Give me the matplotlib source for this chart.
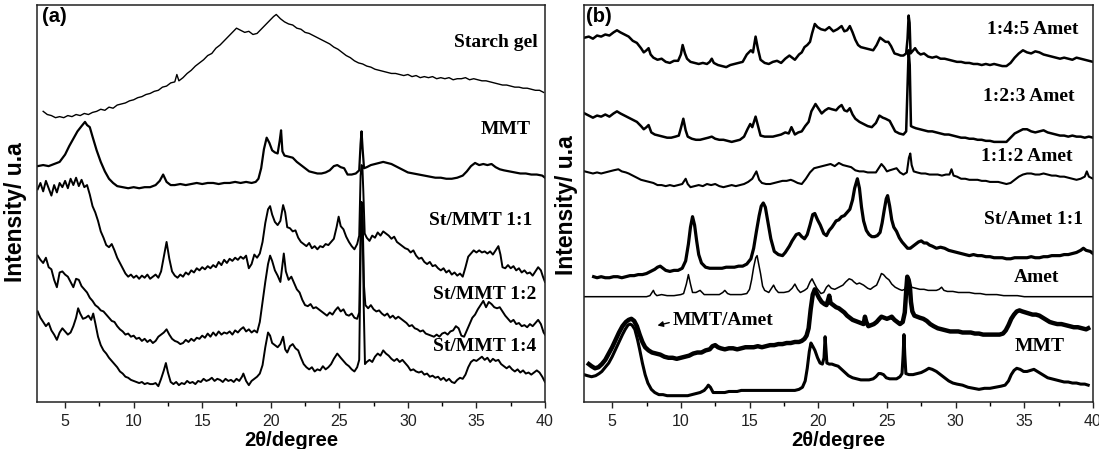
"""XRD patterns: (a) starch gel / MMT / St-MMT films, (b) Amet series."""

import matplotlib

matplotlib.use("Agg")
import matplotlib.pyplot as plt
from matplotlib.ticker import MultipleLocator

# ---------------------------------------------------------------- panel (a)
starch_x = [3.4, 3.7, 4.0, 4.3, 4.6, 4.9, 5.2, 5.5, 5.8, 6.1, 6.4, 6.7, 7.0, 7.3, 7.6, 7.9, 8.2, 8.5, 8.8, 9.1,
            9.4, 9.7, 10.0, 10.3, 10.6, 10.9, 11.2, 11.5, 11.8, 12.1, 12.4, 12.7, 13.0, 13.15, 13.3, 13.6, 13.9,
            14.2, 14.5, 14.8, 15.1, 15.4, 15.7, 16.0, 16.3, 16.6, 16.9, 17.2, 17.5, 17.8, 18.1, 18.4, 18.7, 19.0,
            19.3, 19.6, 19.9, 20.2, 20.4, 20.7, 21.0, 21.3, 21.6, 21.9, 22.2, 22.5, 22.8, 23.1, 23.4, 23.7, 24.0,
            24.3, 24.6, 24.9, 25.2, 25.5, 25.8, 26.1, 26.4, 26.7, 27.0, 27.3, 27.6, 27.9, 28.2, 28.5, 28.8, 29.1,
            29.4, 29.7, 30.0, 30.3, 30.6, 30.9, 31.2, 31.5, 31.8, 32.1, 32.4, 32.7, 33.0, 33.3, 33.6, 33.9, 34.2,
            34.5, 34.8, 35.1, 35.4, 35.7, 36.0, 36.3, 36.6, 36.9, 37.2, 37.5, 37.8, 38.1, 38.4, 38.7, 39.0, 39.3,
            39.6, 39.9]
starch_y = [276, 273, 272, 270, 271, 270, 272, 271, 273, 272, 274, 273, 275, 276, 278, 277, 280, 279, 282, 283,
            284, 286, 287, 289, 290, 292, 293, 295, 296, 299, 300, 303, 304, 311, 305, 308, 312,
            315, 319, 322, 325, 329, 331, 336, 339, 343, 347, 351, 355, 353, 351, 352, 349, 350,
            354, 358, 362, 366, 368, 364, 361, 359, 358, 355, 354, 351, 350, 348, 346, 344, 342,
            340, 337, 335, 332, 329, 327, 324, 322, 321, 319, 318, 316, 315, 314, 313, 312, 312,
            311, 310, 311, 309, 310, 308, 309, 308, 309, 307, 308, 307, 308, 306, 307, 307, 308,
            306, 307, 306, 305, 305, 304, 303, 302, 301, 301, 300, 299, 299, 298, 298, 297, 296,
            296, 294]

mmt_a_x = [3.0, 3.4, 3.8, 4.2, 4.6, 5.0, 5.3, 5.6, 5.9, 6.2, 6.45, 6.6, 6.8, 7.0, 7.3, 7.6, 7.9, 8.2, 8.5, 8.8,
           9.2, 9.6, 10.0, 10.4, 10.8, 11.2, 11.6, 11.9, 12.15, 12.4, 12.7, 13.0, 13.4, 13.8, 14.2, 14.6, 15.0,
           15.4, 15.8, 16.2, 16.6, 17.0, 17.4, 17.8, 18.2, 18.6, 18.9, 19.1, 19.3, 19.5, 19.7, 19.9, 20.1, 20.3,
           20.5, 20.65, 20.75, 20.85, 21.0, 21.3, 21.6, 21.9, 22.2, 22.5, 22.8, 23.1, 23.4, 23.7, 24.0, 24.3,
           24.6, 24.85, 25.1, 25.35, 25.6, 25.9, 26.2, 26.45, 26.55, 26.62, 26.7, 26.8, 27.0, 27.3, 27.6, 27.9,
           28.2, 28.5, 28.8, 29.1, 29.4, 29.7, 30.0, 30.4, 30.8, 31.2, 31.6, 32.0, 32.4, 32.8, 33.2, 33.6, 34.0,
           34.3, 34.6, 34.9, 35.2, 35.5, 35.8, 36.1, 36.4, 36.7, 37.0, 37.4, 37.8, 38.2, 38.6, 39.0, 39.4, 39.8,
           40.0]
mmt_a_y = [224, 225, 224, 226, 228, 235, 243, 250, 257, 262, 266, 263, 261, 252, 239, 228, 219, 212, 208, 205,
           204, 203, 204, 203, 204, 204, 206, 210, 216, 209, 206, 206, 207, 206, 207, 208, 207,
           208, 208, 207, 208, 208, 209, 208, 209, 208, 209, 212, 222, 240, 251, 246, 239, 237,
           236, 248, 258, 238, 234, 233, 232, 228, 225, 222, 219, 218, 217, 217, 218, 220,
           224, 225, 223, 222, 216, 216, 217, 220, 245, 257, 240, 222, 223, 225, 226, 227,
           228, 227, 226, 224, 222, 220, 218, 217, 216, 215, 214, 213, 213, 212, 212, 213, 215,
           219, 224, 227, 225, 226, 225, 226, 223, 221, 220, 219, 218, 217, 217, 216, 216, 215,
           213]

st11_x = [3.0, 3.2, 3.4, 3.6, 3.8, 4.0, 4.2, 4.4, 4.6, 4.8, 5.0, 5.2, 5.4, 5.6, 5.8, 6.0, 6.2, 6.4, 6.6, 6.8,
          7.0, 7.2, 7.4, 7.6, 7.8, 8.0, 8.2, 8.4, 8.6, 8.8, 9.0, 9.2, 9.4, 9.6, 9.8, 10.0, 10.2, 10.4, 10.6,
          10.8, 11.0, 11.2, 11.4, 11.6, 11.8, 12.0, 12.2, 12.4, 12.6, 12.8, 13.0, 13.2, 13.4, 13.6, 13.8, 14.0,
          14.2, 14.4, 14.6, 14.8, 15.0, 15.2, 15.4, 15.6, 15.8, 16.0, 16.2, 16.4, 16.6, 16.8, 17.0, 17.2, 17.4,
          17.6, 17.8, 18.0, 18.2, 18.4, 18.6, 18.8, 19.0, 19.2, 19.4, 19.6, 19.8, 19.95, 20.1, 20.3, 20.5, 20.7,
          20.9, 21.05, 21.2, 21.4, 21.6, 21.8, 22.0, 22.2, 22.4, 22.6, 22.8, 23.0, 23.2, 23.4, 23.6, 23.8, 24.0,
          24.2, 24.4, 24.6, 24.8, 24.95, 25.1, 25.3, 25.5, 25.7, 25.9, 26.1, 26.3, 26.45, 26.55, 26.62, 26.68,
          26.75, 26.85, 27.0, 27.2, 27.4, 27.6, 27.8, 28.0, 28.2, 28.4, 28.6, 28.8, 29.0, 29.2, 29.4, 29.6,
          29.8, 30.0, 30.2, 30.4, 30.6, 30.8, 31.0, 31.2, 31.4, 31.6, 31.8, 32.0, 32.2, 32.4, 32.6, 32.8, 33.0,
          33.2, 33.4, 33.6, 33.8, 34.0, 34.2, 34.4, 34.6, 34.8, 35.0, 35.2, 35.4, 35.6, 35.8, 36.0, 36.2, 36.4,
          36.6, 36.75, 36.9, 37.1, 37.3, 37.5, 37.7, 37.9, 38.1, 38.3, 38.5, 38.7, 38.9, 39.1, 39.3, 39.5,
          39.7, 39.85, 40.0]
st11_y = [202, 208, 200, 210, 203, 196, 206, 199, 208, 204, 210, 203, 212, 206, 213, 205, 211, 204, 206, 197,
          186, 180, 172, 162, 156, 149, 147, 150, 144, 137, 132, 127, 122, 119, 121, 118, 120, 117, 120,
          118, 121, 117, 119, 121, 118, 124, 138, 152, 136, 124, 120, 118, 121, 119, 123, 121,
          125, 123, 127, 125, 128, 126, 129, 127, 130, 128, 133, 130, 135, 132, 136, 134, 137,
          135, 138, 136, 139, 127, 131, 140, 137, 141, 152, 170, 183, 186, 178, 171, 168, 172,
          187, 180, 166, 165, 162, 163, 156, 152, 150, 148, 151, 146, 148, 145, 148, 147, 150,
          149, 152, 155, 166, 176, 167, 164, 157, 152, 148, 145, 150, 158, 215, 225, 224,
          200, 160, 156, 153, 158, 156, 161, 158, 162, 160, 158, 155, 157, 152, 150, 148,
          146, 145, 142, 144, 139, 136, 137, 133, 131, 133, 129, 130, 127, 125, 127, 123, 125,
          121, 123, 120, 122, 119, 128, 138, 141, 144, 142, 144, 142, 143, 141, 143, 140, 144,
          148, 140, 128, 127, 130, 127, 129, 125, 127, 123, 125, 122, 123, 120, 124, 128,
          125, 119, 114]

st12_x = [3.0, 3.2, 3.4, 3.6, 3.8, 4.0, 4.2, 4.4, 4.6, 4.8, 5.0, 5.2, 5.4, 5.6, 5.8, 6.0, 6.2, 6.4, 6.6, 6.8,
          7.0, 7.2, 7.4, 7.6, 7.8, 8.0, 8.2, 8.4, 8.6, 8.8, 9.0, 9.2, 9.4, 9.6, 9.8, 10.0, 10.2, 10.4, 10.6,
          10.8, 11.0, 11.2, 11.4, 11.6, 11.8, 12.0, 12.2, 12.4, 12.6, 12.8, 13.0, 13.2, 13.4, 13.6, 13.8, 14.0,
          14.2, 14.4, 14.6, 14.8, 15.0, 15.2, 15.4, 15.6, 15.8, 16.0, 16.2, 16.4, 16.6, 16.8, 17.0, 17.2, 17.4,
          17.6, 17.8, 18.0, 18.2, 18.4, 18.6, 18.8, 19.0, 19.2, 19.4, 19.6, 19.8, 19.95, 20.1, 20.3, 20.5, 20.7,
          20.85, 20.95, 21.1, 21.3, 21.5, 21.7, 21.9, 22.1, 22.3, 22.5, 22.7, 22.9, 23.1, 23.3, 23.5, 23.7,
          23.9, 24.1, 24.3, 24.5, 24.7, 24.9, 25.1, 25.3, 25.5, 25.7, 25.9, 26.1, 26.3, 26.45, 26.55, 26.62,
          26.7, 26.8, 26.9, 27.1, 27.3, 27.5, 27.7, 27.9, 28.1, 28.3, 28.5, 28.7, 28.9, 29.1, 29.3, 29.5, 29.7,
          29.9, 30.1, 30.3, 30.5, 30.7, 30.9, 31.1, 31.3, 31.5, 31.7, 31.9, 32.1, 32.3, 32.5, 32.7, 32.9, 33.1,
          33.3, 33.5, 33.7, 33.9, 34.1, 34.3, 34.5, 34.7, 34.9, 35.1, 35.3, 35.5, 35.7, 35.9, 36.1, 36.3, 36.5,
          36.7, 36.9, 37.1, 37.3, 37.5, 37.7, 37.9, 38.1, 38.3, 38.5, 38.7, 38.9, 39.1, 39.3, 39.5, 39.7, 39.9,
          40.0]
st12_y = [139, 135, 132, 137, 128, 126, 116, 109, 123, 124, 121, 119, 114, 109, 117, 116, 110, 107, 104, 99,
          96, 92, 90, 87, 86, 83, 80, 77, 76, 72, 69, 67, 64, 65, 62, 63, 60, 61, 58,
          60, 57, 59, 56, 58, 62, 64, 66, 69, 64, 60, 58, 57, 55, 56, 59, 57,
          60, 58, 61, 60, 63, 61, 65, 62, 66, 63, 67, 64, 66, 65, 67, 64, 68,
          66, 69, 71, 67, 69, 66, 68, 66, 76, 95, 114, 131, 139, 134, 125, 120, 114,
          130, 141, 124, 116, 119, 113, 107, 104, 97, 92, 91, 93, 89, 90, 88, 86,
          84, 82, 85, 83, 87, 90, 86, 88, 83, 82, 84, 80, 79, 85, 160, 190,
          175, 110, 92, 89, 92, 88, 86, 87, 84, 82, 84, 80, 82, 79, 81, 79, 77,
          75, 72, 73, 70, 69, 67, 68, 65, 64, 63, 62, 64, 62, 65, 66, 64, 67,
          68, 72, 70, 63, 62, 68, 74, 80, 83, 88, 92, 96, 90, 95, 93, 90, 89,
          90, 86, 82, 79, 76, 78, 74, 75, 72, 73, 71, 74, 72, 75, 78, 74, 66,
          64]

st14_x = [3.0, 3.2, 3.4, 3.6, 3.8, 4.0, 4.2, 4.4, 4.6, 4.8, 5.0, 5.2, 5.4, 5.6, 5.8, 5.95, 6.1, 6.3, 6.5, 6.7,
          6.9, 7.05, 7.2, 7.4, 7.6, 7.8, 8.0, 8.2, 8.4, 8.6, 8.8, 9.0, 9.2, 9.4, 9.6, 9.8, 10.0, 10.2, 10.4,
          10.6, 10.8, 11.0, 11.2, 11.4, 11.6, 11.8, 12.0, 12.2, 12.35, 12.5, 12.7, 12.9, 13.1, 13.3, 13.5, 13.7,
          13.9, 14.1, 14.3, 14.5, 14.7, 14.9, 15.1, 15.3, 15.5, 15.7, 15.9, 16.1, 16.3, 16.5, 16.7, 16.9, 17.1,
          17.3, 17.5, 17.7, 17.9, 18.0, 18.2, 18.4, 18.6, 18.8, 19.0, 19.2, 19.4, 19.6, 19.8, 19.95, 20.1, 20.3,
          20.5, 20.7, 20.9, 21.05, 21.2, 21.4, 21.6, 21.8, 22.0, 22.2, 22.4, 22.6, 22.8, 23.0, 23.2, 23.4, 23.6,
          23.8, 24.0, 24.2, 24.4, 24.6, 24.85, 25.1, 25.3, 25.5, 25.7, 25.9, 26.1, 26.3, 26.45, 26.55, 26.62,
          26.7, 26.78, 26.87, 27.0, 27.2, 27.4, 27.6, 27.8, 28.0, 28.2, 28.4, 28.6, 28.8, 29.0, 29.2, 29.4,
          29.6, 29.8, 30.0, 30.2, 30.4, 30.6, 30.8, 31.0, 31.2, 31.4, 31.6, 31.8, 32.0, 32.2, 32.4, 32.6, 32.8,
          33.0, 33.2, 33.4, 33.6, 33.8, 34.0, 34.2, 34.4, 34.6, 34.8, 35.0, 35.2, 35.4, 35.6, 35.8, 36.0, 36.2,
          36.4, 36.6, 36.8, 37.0, 37.2, 37.4, 37.6, 37.8, 38.0, 38.2, 38.4, 38.6, 38.8, 39.0, 39.2, 39.4, 39.6,
          39.8, 40.0]
st14_y = [86, 80, 76, 72, 75, 68, 64, 59, 66, 70, 67, 64, 66, 72, 80, 89, 84, 79, 80, 82,
          78, 84, 75, 62, 54, 49, 46, 42, 39, 36, 33, 29, 27, 24, 23, 21, 20, 19, 18,
          19, 17, 18, 17, 17, 18, 15, 22, 30, 37, 28, 19, 17, 19, 16, 18, 17,
          20, 18, 19, 17, 20, 19, 22, 20, 21, 23, 20, 22, 21, 19, 22, 20, 21,
          19, 22, 20, 24, 27, 20, 16, 20, 22, 24, 27, 35, 52, 66, 63, 56, 54,
          52, 55, 62, 50, 47, 53, 55, 51, 49, 42, 36, 33, 31, 33, 29, 31, 30,
          34, 31, 33, 36, 41, 46, 42, 39, 36, 34, 31, 29, 33, 40, 140, 185,
          170, 90, 36, 38, 40, 38, 43, 46, 44, 49, 46, 44, 41, 39, 41, 38,
          40, 37, 34, 30, 31, 29, 28, 29, 26, 27, 24, 25, 23, 24, 21, 23, 20,
          22, 19, 18, 21, 23, 22, 26, 33, 38, 40, 39, 41, 43, 40, 42, 38, 41,
          39, 40, 36, 34, 32, 34, 31, 29, 31, 28, 30, 27, 28, 26, 28, 30, 28,
          24, 19]

# ---------------------------------------------------------------- panel (b)
a145_x = [3.0, 3.3, 3.6, 3.9, 4.2, 4.5, 4.8, 5.1, 5.35, 5.6, 5.9, 6.2, 6.5, 6.8, 7.1, 7.3, 7.5, 7.65, 7.8, 8.0,
          8.3, 8.6, 8.9, 9.2, 9.5, 9.8, 10.0, 10.13, 10.3, 10.45, 10.7, 11.0, 11.3, 11.6, 11.9, 12.1, 12.25,
          12.4, 12.7, 13.0, 13.3, 13.6, 13.9, 14.2, 14.5, 14.8, 15.1, 15.25, 15.44, 15.6, 15.8, 16.1, 16.4,
          16.7, 17.0, 17.3, 17.6, 17.9, 18.1, 18.3, 18.6, 18.8, 19.0, 19.2, 19.4, 19.55, 19.75, 19.95, 20.2,
          20.5, 20.8, 21.1, 21.4, 21.7, 21.9, 22.1, 22.3, 22.5, 22.7, 22.9, 23.1, 23.4, 23.7, 24.0, 24.25,
          24.5, 24.7, 24.9, 25.1, 25.3, 25.55, 25.8, 26.0, 26.2, 26.4, 26.5, 26.58, 26.65, 26.72, 26.85, 27.05,
          27.25, 27.45, 27.7, 28.0, 28.3, 28.6, 28.9, 29.2, 29.5, 29.8, 30.1, 30.4, 30.7, 31.0, 31.3, 31.6,
          31.9, 32.2, 32.5, 32.8, 33.1, 33.4, 33.7, 34.0, 34.3, 34.6, 34.9, 35.2, 35.5, 35.8, 36.1, 36.4, 36.7,
          37.0, 37.3, 37.6, 37.9, 38.2, 38.5, 38.8, 39.1, 39.4, 39.7, 40.0]
a145_y = [346, 347, 345, 348, 347, 349, 348, 351, 353, 351, 349, 347, 343, 341, 336, 332, 334, 336, 330, 327,
          325, 326, 323, 322, 324, 324, 330, 339, 331, 326, 323, 322, 321, 322, 321, 323, 326,
          322, 320, 319, 318, 320, 321, 322, 323, 330, 334, 332, 347, 336, 325, 322, 321,
          323, 324, 322, 326, 329, 327, 325, 330, 332, 337, 339, 342, 350, 359, 356, 354,
          353, 356, 352, 354, 357, 352, 353, 357, 351, 344, 339, 337, 336, 335, 334, 339,
          346, 344, 342, 342, 338, 331, 330, 329, 329, 331, 345, 367, 360, 331, 333, 336,
          332, 330, 331, 328, 327, 328, 326, 326, 325, 324, 323, 323, 322, 322, 321, 321,
          320, 321, 320, 321, 320, 319, 319, 322, 327, 331, 334, 332, 331, 333, 332, 330, 329,
          328, 327, 326, 327, 326, 325, 327, 326, 325, 324, 323]

a123_x = [3.0, 3.3, 3.6, 3.9, 4.2, 4.5, 4.8, 5.1, 5.35, 5.6, 5.9, 6.2, 6.5, 6.8, 7.1, 7.3, 7.5, 7.65, 7.85, 8.1,
          8.4, 8.7, 9.0, 9.3, 9.6, 9.85, 10.0, 10.18, 10.35, 10.5, 10.8, 11.1, 11.4, 11.7, 12.0, 12.25, 12.5,
          12.8, 13.1, 13.4, 13.7, 14.0, 14.3, 14.6, 14.85, 15.05, 15.2, 15.44, 15.6, 15.8, 16.1, 16.4, 16.7,
          17.0, 17.3, 17.6, 17.85, 18.05, 18.3, 18.55, 18.8, 19.05, 19.3, 19.5, 19.8, 20.0, 20.25, 20.5, 20.75,
          21.0, 21.3, 21.5, 21.7, 21.9, 22.1, 22.3, 22.5, 22.7, 23.0, 23.3, 23.6, 23.9, 24.2, 24.45, 24.7,
          24.9, 25.2, 25.4, 25.6, 25.9, 26.2, 26.4, 26.5, 26.58, 26.66, 26.75, 26.9, 27.1, 27.4, 27.7, 28.0,
          28.3, 28.6, 28.9, 29.2, 29.5, 29.8, 30.1, 30.4, 30.7, 31.0, 31.3, 31.6, 31.9, 32.2, 32.5, 32.8, 33.1,
          33.4, 33.7, 34.0, 34.3, 34.6, 34.9, 35.2, 35.5, 35.8, 36.1, 36.4, 36.7, 37.0, 37.3, 37.6, 37.9, 38.2,
          38.5, 38.8, 39.1, 39.4, 39.7, 40.0]
a123_y = [274, 272, 270, 272, 271, 273, 271, 274, 276, 274, 272, 270, 268, 266, 262, 259, 261, 263, 256, 254,
          253, 252, 251, 251, 252, 253, 260, 269, 258, 252, 250, 249, 249, 250, 251, 252, 250,
          249, 249, 248, 247, 248, 249, 252, 259, 264, 261, 271, 263, 253, 252, 252, 252,
          253, 254, 256, 255, 261, 254, 256, 257, 262, 266, 276, 283, 279, 274, 277, 279,
          278, 277, 280, 282, 277, 276, 279, 273, 269, 266, 264, 262, 261, 265, 272, 270,
          269, 267, 262, 257, 255, 254, 257, 300, 334, 320, 262, 261, 260, 259, 258, 257,
          257, 256, 255, 254, 254, 253, 252, 251, 251, 250, 250, 249, 249, 248, 248, 247, 247,
          247, 247, 251, 255, 257, 259, 259, 257, 256, 257, 258, 256, 255, 254, 253, 253, 252,
          253, 252, 252, 251, 252, 251]

a112_x = [3.0, 3.3, 3.6, 3.9, 4.2, 4.5, 4.8, 5.1, 5.45, 5.7, 6.0, 6.2, 6.5, 6.8, 7.1, 7.4, 7.7, 8.0, 8.3, 8.6,
          8.9, 9.2, 9.5, 9.8, 10.1, 10.35, 10.5, 10.7, 11.0, 11.3, 11.6, 11.9, 12.2, 12.5, 12.8, 13.1, 13.4,
          13.7, 14.0, 14.3, 14.6, 14.9, 15.2, 15.5, 15.7, 15.9, 16.2, 16.5, 16.8, 17.1, 17.4, 17.7, 18.0, 18.2,
          18.5, 18.8, 19.1, 19.4, 19.7, 20.0, 20.3, 20.6, 20.9, 21.2, 21.5, 21.8, 22.1, 22.4, 22.7, 23.0, 23.3,
          23.6, 23.9, 24.2, 24.4, 24.6, 24.8, 25.0, 25.2, 25.45, 25.7, 25.95, 26.2, 26.45, 26.6, 26.7, 26.8,
          26.95, 27.2, 27.5, 27.8, 28.1, 28.4, 28.7, 29.0, 29.3, 29.55, 29.7, 29.85, 30.1, 30.4, 30.7, 31.0,
          31.3, 31.6, 31.9, 32.2, 32.5, 32.8, 33.1, 33.4, 33.7, 34.0, 34.3, 34.6, 34.9, 35.2, 35.5, 35.8, 36.1,
          36.4, 36.7, 37.0, 37.3, 37.6, 37.9, 38.2, 38.5, 38.8, 39.1, 39.4, 39.55, 39.7, 40.0]
a112_y = [219, 218, 217, 218, 217, 218, 219, 220, 221, 219, 218, 217, 215, 213, 211, 210, 209, 208, 206, 206,
          205, 206, 205, 206, 207, 212, 207, 204, 205, 206, 205, 207, 206, 207, 205, 204, 205,
          206, 205, 206, 207, 209, 212, 219, 211, 208, 207, 207, 208, 209, 210, 210, 211, 210,
          208, 207, 212, 218, 222, 223, 224, 225, 226, 224, 227, 225, 224, 223, 220, 219, 219,
          218, 218, 218, 222, 226, 223, 219, 220, 221, 222, 218, 216, 218, 232, 236, 225,
          219, 218, 217, 217, 216, 216, 216, 215, 216, 216, 221, 215, 214, 212, 212, 211,
          211, 211, 210, 210, 209, 209, 209, 208, 207, 208, 211, 214, 216, 217, 217, 216, 216,
          217, 216, 215, 215, 214, 214, 213, 212, 211, 212, 214, 219, 214, 212]

stamet_x = [3.65, 3.9, 4.2, 4.5, 4.8, 5.1, 5.4, 5.7, 6.0, 6.3, 6.6, 6.9, 7.2, 7.5, 7.8, 8.1, 8.3, 8.5, 8.7, 8.9,
            9.2, 9.5, 9.8, 10.1, 10.35, 10.55, 10.7, 10.85, 11.0, 11.15, 11.3, 11.5, 11.8, 12.1, 12.4, 12.7,
            13.0, 13.3, 13.6, 13.9, 14.2, 14.5, 14.8, 15.1, 15.3, 15.5, 15.7, 15.85, 16.0, 16.15, 16.35, 16.55,
            16.8, 17.1, 17.4, 17.6, 17.9, 18.1, 18.4, 18.6, 18.8, 19.0, 19.2, 19.4, 19.6, 19.75, 19.95, 20.15,
            20.4, 20.6, 20.8, 21.0, 21.3, 21.5, 21.7, 21.9, 22.1, 22.3, 22.5, 22.65, 22.85, 23.0, 23.15, 23.3,
            23.5, 23.7, 23.9, 24.1, 24.3, 24.5, 24.65, 24.8, 24.95, 25.05, 25.2, 25.35, 25.5, 25.7, 25.9, 26.1,
            26.3, 26.5, 26.7, 26.9, 27.1, 27.3, 27.5, 27.7, 27.9, 28.1, 28.3, 28.6, 28.9, 29.2, 29.5, 29.8,
            30.1, 30.4, 30.7, 31.0, 31.3, 31.6, 31.9, 32.2, 32.5, 32.8, 33.1, 33.4, 33.7, 34.0, 34.3, 34.6,
            34.9, 35.2, 35.5, 35.8, 36.1, 36.4, 36.7, 37.0, 37.3, 37.6, 37.9, 38.2, 38.5, 38.8, 39.1, 39.3,
            39.5, 39.8, 40.0]
stamet_y = [119, 118, 119, 118, 118, 119, 119, 118, 119, 120, 120, 121, 121, 122, 124, 126, 128, 129, 127, 125,
            124, 125, 125, 127, 134, 150, 166, 176, 168, 153, 140, 132, 128, 127, 127, 127,
            127, 128, 128, 128, 129, 129, 131, 136, 146, 162, 177, 186, 189, 185, 170, 155,
            143, 140, 139, 142, 148, 153, 159, 160, 157, 155, 159, 168, 178, 179, 173, 168,
            160, 158, 163, 166, 172, 173, 176, 177, 180, 183, 192, 203, 212, 203, 185, 172,
            163, 159, 157, 157, 158, 161, 170, 182, 193, 196, 186, 173, 166, 162, 156, 152,
            149, 146, 146, 148, 150, 152, 153, 151, 151, 149, 148, 146, 147, 146, 144, 143,
            142, 141, 140, 139, 140, 139, 139, 138, 138, 137, 137, 137, 136, 136, 137, 137,
            137, 137, 138, 137, 137, 138, 138, 139, 139, 139, 140, 140, 141, 142, 144, 146,
            144, 143, 141]

amet_x = [2.95, 3.5, 4.0, 4.5, 5.0, 5.5, 6.0, 6.5, 7.0, 7.5, 7.75, 7.9, 8.0, 8.1, 8.25, 8.6, 9.0, 9.5, 10.0,
          10.2, 10.4, 10.55, 10.7, 10.85, 11.1, 11.4, 11.7, 12.0, 12.4, 12.8, 13.05, 13.2, 13.4, 13.6, 14.0,
          14.4, 14.8, 15.0, 15.15, 15.3, 15.45, 15.55, 15.65, 15.8, 15.95, 16.1, 16.4, 16.6, 16.75, 16.9,
          17.1, 17.5, 17.85, 18.1, 18.3, 18.5, 18.7, 19.0, 19.2, 19.4, 19.55, 19.7, 19.9, 20.2, 20.4, 20.6,
          20.75, 20.95, 21.2, 21.5, 21.8, 22.0, 22.25, 22.45, 22.6, 22.8, 23.0, 23.3, 23.6, 23.8, 24.0, 24.25,
          24.45, 24.6, 24.75, 24.95, 25.15, 25.35, 25.6, 25.9, 26.1, 26.3, 26.45, 26.55, 26.65, 26.8, 27.1,
          27.4, 27.7, 28.0, 28.3, 28.6, 28.8, 28.98, 29.15, 29.4, 29.8, 30.2, 30.6, 31.0, 31.4, 31.8, 32.2,
          32.6, 33.0, 33.5, 34.0, 34.5, 35.0, 35.5, 36.0, 37.0, 38.0, 39.0, 40.0]
amet_y = [100, 100, 100, 100, 100, 100, 100, 100, 100, 100, 101, 104, 106, 103, 101, 102, 101, 101, 102,
          103, 112, 121, 112, 104, 104, 106, 102, 102, 102, 102, 104, 106, 103, 102, 102,
          102, 103, 107, 116, 128, 137, 139, 132, 122, 110, 106, 104, 108, 111, 107,
          104, 104, 105, 108, 112, 107, 104, 106, 108, 114, 117, 113, 108, 103, 104, 109,
          111, 108, 107, 109, 111, 114, 117, 116, 114, 112, 113, 111, 108, 107, 109, 111,
          117, 122, 121, 118, 116, 112, 109, 107, 106, 107, 113, 119, 113, 109, 108,
          107, 107, 106, 106, 106, 107, 109, 106, 105, 105, 104, 104, 104, 103, 103, 102,
          102, 102, 101, 101, 101, 100, 100, 100, 100, 100, 100, 100]

mmtamet_x = [3.3, 3.5, 3.75, 4.0, 4.25, 4.5, 4.75, 5.0, 5.25, 5.5, 5.75, 6.0, 6.2, 6.4, 6.6, 6.8, 7.0, 7.2, 7.4,
             7.65, 7.9, 8.2, 8.5, 8.8, 9.1, 9.4, 9.7, 10.0, 10.3, 10.6, 10.9, 11.2, 11.5, 11.8, 12.1, 12.3,
             12.5, 12.7, 12.9, 13.2, 13.5, 13.8, 14.1, 14.4, 14.7, 15.0, 15.3, 15.6, 15.9, 16.2, 16.5, 16.8,
             17.1, 17.4, 17.7, 18.0, 18.3, 18.6, 18.8, 19.0, 19.15, 19.3, 19.45, 19.6, 19.75, 19.9, 20.05,
             20.25, 20.45, 20.6, 20.72, 20.8, 20.9, 21.1, 21.3, 21.5, 21.7, 21.9, 22.1, 22.3, 22.5, 22.7, 22.9,
             23.1, 23.3, 23.4, 23.5, 23.65, 23.85, 24.05, 24.25, 24.45, 24.6, 24.8, 25.0, 25.2, 25.35, 25.55,
             25.75, 25.95, 26.15, 26.3, 26.4, 26.48, 26.58, 26.67, 26.75, 26.85, 27.0, 27.2, 27.4, 27.65, 27.9,
             28.15, 28.4, 28.7, 29.0, 29.3, 29.6, 29.9, 30.2, 30.5, 30.8, 31.1, 31.4, 31.7, 32.0, 32.3, 32.6,
             32.9, 33.2, 33.45, 33.65, 33.85, 34.05, 34.25, 34.45, 34.65, 34.85, 35.1, 35.35, 35.6, 35.85, 36.1,
             36.35, 36.6, 36.85, 37.1, 37.4, 37.7, 38.0, 38.3, 38.6, 38.9, 39.2, 39.5, 39.65]
mmtamet_y = [36, 34, 32, 33, 36, 40, 46, 52, 59, 66, 72, 76, 78, 79, 77, 72, 64, 57, 52,
             49, 47, 46, 45, 43, 42, 42, 41, 42, 43, 44, 46, 47, 47, 49, 50, 53,
             54, 52, 51, 50, 51, 51, 50, 51, 52, 52, 52, 53, 52, 53, 54, 54,
             55, 55, 56, 56, 57, 57, 58, 60, 63, 70, 88, 102, 107, 103, 99,
             95, 93, 92, 97, 101, 94, 92, 90, 89, 87, 85, 82, 80, 78, 77, 76,
             75, 74, 81, 76, 72, 73, 74, 76, 79, 81, 80, 79, 80, 81, 78,
             76, 74, 76, 85, 105, 119, 116, 110, 95, 86, 82, 81, 80, 79, 77,
             74, 72, 70, 69, 68, 67, 67, 67, 66, 66, 66, 65, 65, 64, 64, 64,
             64, 64, 65, 68, 73, 79, 83, 86, 87, 86, 85, 84, 83, 83, 82,
             80, 78, 76, 75, 74, 74, 73, 72, 71, 71, 70, 69, 70]

mmt_b_x = [2.95, 3.2, 3.5, 3.8, 4.05, 4.25, 4.5, 4.75, 5.0, 5.25, 5.5, 5.75, 5.95, 6.15, 6.3, 6.45, 6.65, 6.85,
           7.0, 7.2, 7.4, 7.6, 7.85, 8.1, 8.4, 8.7, 9.0, 9.3, 9.6, 9.9, 10.2, 10.5, 10.8, 11.1, 11.4, 11.7,
           11.9, 12.0, 12.15, 12.35, 12.6, 12.9, 13.2, 13.5, 13.8, 14.1, 14.4, 14.7, 15.0, 15.3, 15.6, 15.9,
           16.2, 16.5, 16.8, 17.1, 17.4, 17.7, 18.0, 18.3, 18.6, 18.85, 19.05, 19.2, 19.35, 19.47, 19.6, 19.76,
           19.95, 20.13, 20.3, 20.42, 20.5, 20.56, 20.63, 20.8, 21.0, 21.2, 21.45, 21.7, 21.95, 22.2, 22.5,
           22.8, 23.1, 23.4, 23.7, 24.0, 24.2, 24.4, 24.55, 24.75, 24.95, 25.2, 25.45, 25.7, 25.95, 26.1, 26.18,
           26.24, 26.3, 26.38, 26.6, 26.9, 27.2, 27.5, 27.8, 28.05, 28.3, 28.6, 28.9, 29.2, 29.5, 29.8, 30.1,
           30.5, 30.9, 31.3, 31.7, 32.1, 32.5, 32.9, 33.3, 33.6, 33.85, 34.05, 34.25, 34.45, 34.7, 34.95, 35.2,
           35.45, 35.7, 35.95, 36.2, 36.45, 36.7, 37.0, 37.3, 37.6, 37.9, 38.2, 38.5, 38.8, 39.1, 39.4, 39.65]
mmt_b_y = [26, 25, 24, 25, 27, 29, 33, 37, 43, 50, 57, 64, 69, 73, 74, 73, 69, 59,
           50, 37, 26, 18, 12, 9, 7, 7, 6, 6, 6, 6, 6, 6, 7, 8, 9, 11,
           14, 16, 14, 9, 9, 9, 9, 10, 10, 10, 11, 11, 11, 11, 11, 11,
           11, 11, 11, 11, 11, 11, 11, 11, 12, 14, 20, 32, 48, 56, 53, 49,
           42, 37, 36, 42, 62, 50, 37, 36, 36, 35, 34, 31, 28, 25, 23,
           22, 21, 21, 21, 22, 24, 27, 27, 26, 23, 22, 22, 22, 24, 27, 45,
           64, 45, 27, 26, 26, 27, 28, 30, 32, 31, 29, 26, 23, 20, 18, 17,
           16, 14, 13, 12, 13, 13, 14, 15, 16, 20, 26, 30, 32, 31, 29, 29,
           30, 31, 29, 27, 25, 23, 22, 21, 20, 19, 19, 18, 18, 17, 17, 16]

SANS = ["Liberation Sans", "DejaVu Sans"]
SERIF = ["Liberation Serif", "DejaVu Serif"]
W, H = 1099, 449
AX_TOP, AX_BOT = 5, 402  # axes frame, pixels from the top


def _frame(ax, tag, tag_x):
    """Common axis styling for one XRD panel."""
    ax.set_xlim(2.95, 40)
    ax.set_ylim(0, 377)
    ax.set_yticks([])
    ax.xaxis.set_major_locator(MultipleLocator(5))
    ax.xaxis.set_minor_locator(MultipleLocator(2.5))
    ax.tick_params(axis="x", which="major", direction="out", length=4, width=1, pad=5,
                   labelsize=11.5, colors="#222222")
    ax.tick_params(axis="x", which="minor", direction="out", length=3, width=1)
    for lab in ax.get_xticklabels():
        lab.set_family(SANS)
    for sp in ax.spines.values():
        sp.set_linewidth(1.1)
        sp.set_color("#222222")
    ax.set_xlabel("2θ/degree", family=SANS, fontsize=14.5, fontweight="bold", labelpad=1)
    ax.text(tag_x, 1 - 12 / (AX_BOT - AX_TOP), tag, transform=ax.transAxes, family=SANS,
            fontsize=14.5, fontweight="bold", ha="left", va="center")


def _label(ax, x, y, text):
    ax.text(x, y, text, family=SERIF, fontsize=14, fontweight="bold", ha="center", va="center")


fig = plt.figure(figsize=(W / 100, H / 100), dpi=100)
ax_a = fig.add_axes([37 / W, 1 - AX_BOT / H, 508 / W, (AX_BOT - AX_TOP) / H])
ax_b = fig.add_axes([584 / W, 1 - AX_BOT / H, 509 / W, (AX_BOT - AX_TOP) / H])

# panel (a)
ax_a.plot(starch_x, starch_y, color="black", lw=1.0)
ax_a.plot(mmt_a_x, mmt_a_y, color="black", lw=1.6)
ax_a.plot(st11_x, st11_y, color="black", lw=1.4)
ax_a.plot(st12_x, st12_y, color="black", lw=1.4)
ax_a.plot(st14_x, st14_y, color="black", lw=1.4)
_frame(ax_a, "(a)", 0.01)
_label(ax_a, 36.4, 341, "Starch gel")
_label(ax_a, 37.1, 259, "MMT")
_label(ax_a, 35.3, 172, "St/MMT 1:1")
_label(ax_a, 35.6, 102, "St/MMT 1:2")
_label(ax_a, 35.6, 53, "St/MMT 1:4")

# panel (b)
ax_b.plot(a145_x, a145_y, color="black", lw=1.8)
ax_b.plot(a123_x, a123_y, color="black", lw=1.8)
ax_b.plot(a112_x, a112_y, color="black", lw=1.5)
ax_b.plot(stamet_x, stamet_y, color="black", lw=2.3)
ax_b.plot(amet_x, amet_y, color="black", lw=1.1)
ax_b.plot(mmtamet_x, mmtamet_y, color="black", lw=3.2)
ax_b.plot(mmt_b_x, mmt_b_y, color="black", lw=2.2)
_frame(ax_b, "(b)", 0.004)
_label(ax_b, 35.6, 354, "1:4:5 Amet")
_label(ax_b, 35.3, 290, "1:2:3 Amet")
_label(ax_b, 35.2, 233, "1:1:2 Amet")
_label(ax_b, 35.7, 173, "St/Amet 1:1")
_label(ax_b, 35.9, 118, "Amet")
_label(ax_b, 36.1, 53, "MMT")
ax_b.text(9.4, 77, "MMT/Amet", family=SERIF, fontsize=14, fontweight="bold", ha="left", va="center")
ax_b.annotate("", xy=(8.1, 72), xytext=(9.35, 76),
              arrowprops=dict(arrowstyle="-|>", color="black", lw=1.0, mutation_scale=8))

# y labels
for xpix, ypix in ((16, 212), (566, 205)):
    fig.text(xpix / W, 1 - ypix / H, "Intensity/ u.a", rotation=90, family=SANS, fontsize=16.5,
             fontweight="bold", ha="center", va="center")

fig.savefig("out.png", dpi=100)
